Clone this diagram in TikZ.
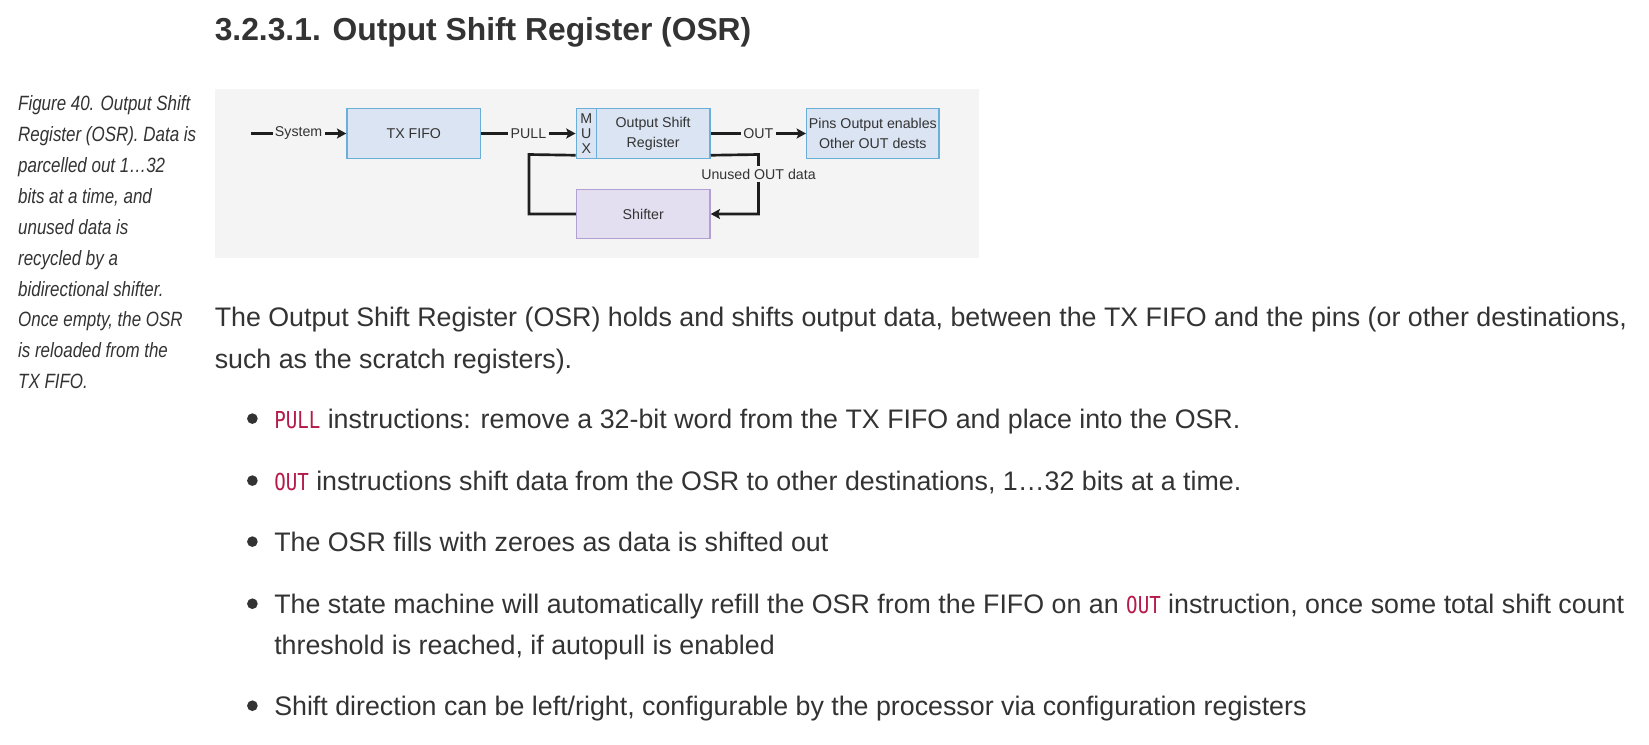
\documentclass[tikz,border=0pt]{standalone}
\usepackage{fontspec}
\setmainfont{Liberation Sans}
\newfontfamily\capfont{Liberation Sans}[FakeStretch=0.82]
\newfontfamily\codefont{DejaVu Sans Mono}[FakeStretch=0.82]
\usetikzlibrary{arrows.meta,calc}
\definecolor{txt}{HTML}{333333}
\definecolor{figbg}{HTML}{F4F4F4}
\definecolor{bfill}{HTML}{DAE4F2}
\definecolor{bdraw}{HTML}{6AAFD8}
\definecolor{pfill}{HTML}{E3DEF0}
\definecolor{pdraw}{HTML}{B3A0D2}
\definecolor{codecol}{HTML}{B51A4A}
\definecolor{linecol}{HTML}{1E1E1E}
\newcommand{\code}[1]{{\codefont\fontsize{17.5pt}{20pt}\selectfont\color{codecol}#1}}
\tikzset{
  body/.style={anchor=base west, inner sep=0pt, text=txt, font=\fontsize{20.1pt}{24pt}\selectfont},
  capline/.style={anchor=base west, inner sep=0pt, text=txt, font=\capfont\itshape\fontsize{15.5pt}{18pt}\selectfont},
  heading/.style={anchor=base west, inner sep=0pt, text=txt, font=\bfseries\fontsize{23.85pt}{28pt}\selectfont},
  blk/.style={draw=bdraw, fill=bfill, line width=1.1pt, inner sep=0pt, text=txt, align=center,
    font=\fontsize{10.65pt}{15pt}\selectfont, minimum height=37.5pt},
  pblk/.style={blk, draw=pdraw, fill=pfill, minimum height=37pt},
  conn/.style={line width=2pt, draw=linecol},
  arr/.style={conn, -{Stealth[length=7pt,width=7.5pt,inset=1.5pt]}},
  lbl/.style={fill=figbg, inner sep=1.8pt, text=txt, font=\fontsize{10.65pt}{13pt}\selectfont},
  bullet/.style={fill=txt}
}
\begin{document}
\begin{tikzpicture}[x=0.75pt,y=-0.75pt]
\useasboundingbox (0,0) rectangle (1649,744);
\fill[white] (0,0) rectangle (1649,744);

% heading
\node[heading] (head) at (214.5,40.5) {3.2.3.1. Output Shift Register (OSR)};

% caption
\node[capline] (c1) at (17.9,110.4) {Figure 40. Output Shift};
\node[capline] (c2) at (17.9,141.3) {Register (OSR). Data is};
\node[capline] (c3) at (17.9,172.3) {parcelled out 1…32};
\node[capline] (c4) at (17.9,203.2) {bits at a time, and};
\node[capline] (c5) at (17.9,234.1) {unused data is};
\node[capline] (c6) at (17.9,265.1) {recycled by a};
\node[capline] (c7) at (17.9,296.0) {bidirectional shifter.};
\node[capline] (c8) at (17.9,326.9) {Once empty, the OSR};
\node[capline] (c9) at (17.9,357.8) {is reloaded from the};
\node[capline] (c10) at (17.9,388.8) {TX FIFO.};

% figure background
\fill[figbg] (214.5,89.4) rectangle (979,257.7);

% blocks
\node[blk, minimum width=100.2pt] (tx) at (413.8,133.5) {TX FIFO};
\node[blk, minimum width=15pt, font=\fontsize{10.65pt}{11pt}\selectfont] (mux) at (586.3,133.5) {M\\U\\X};
\node[blk, minimum width=85.3pt] (osr) at (653.15,133.5) {Output Shift\\Register};
\node[blk, minimum width=99.2pt] (pins) at (872.85,133.5) {Pins Output enables\\Other OUT dests};
\node[pblk, minimum width=100.1pt] (shift) at (643.25,214) {Shifter};

% connectors
\coordinate (sysstart) at (251,133.5);
\draw[arr] (sysstart) -- node[lbl] (lsys) {System} (tx.west);
\draw[arr] (tx.east) -- node[lbl] (lpull) {PULL} (mux.west);
\draw[arr] (osr.east) -- node[lbl] (lout) {OUT} (pins.west);

\coordinate (rturn) at (758.5,154.5);
\coordinate (lturn) at (529,154.5);
\draw[arr] ($(osr.south east)+(0,-4)$) -- (rturn) |- (shift.east);
\draw[conn] (shift.west) -| (lturn) -- ($(mux.south west)+(0,-4)$);
\node[lbl] (unused) at (758.5,174) {Unused OUT data};

% paragraph
\node[body] (p1) at (214.5,326.3) {The Output Shift Register (OSR) holds and shifts output data, between the TX FIFO and the pins (or other destinations,};
\node[body] (p2) at (214.5,368.3) {such as the scratch registers).};

% bullets
\fill[bullet] (252.4,418.6) circle[radius=4pt];
\node[body] (b1) at (274,428.3) {\code{PULL} instructions: remove a 32-bit word from the TX FIFO and place into the OSR.};
\fill[bullet] (252.4,480.6) circle[radius=4pt];
\node[body] (b2) at (274,490.3) {\code{OUT} instructions shift data from the OSR to other destinations, 1…32 bits at a time.};
\fill[bullet] (252.4,541.6) circle[radius=4pt];
\node[body] (b3) at (274,551.3) {The OSR fills with zeroes as data is shifted out};
\fill[bullet] (252.4,603.7) circle[radius=4pt];
\node[body] (b4) at (274,613.4) {The state machine will automatically refill the OSR from the FIFO on an \code{OUT} instruction, once some total shift count};
\node[body] (b4b) at (274,654.4) {threshold is reached, if autopull is enabled};
\fill[bullet] (252.4,705.7) circle[radius=4pt];
\node[body] (b5) at (274,715.4) {Shift direction can be left/right, configurable by the processor via configuration registers};
\end{tikzpicture}
\end{document}
